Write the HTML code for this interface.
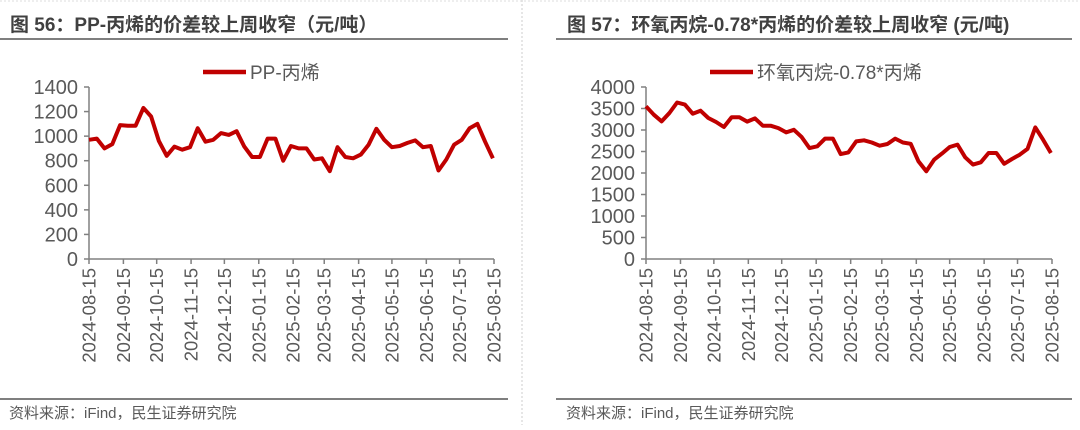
<!DOCTYPE html>
<html><head><meta charset="utf-8">
<style>
body{margin:0;background:#fff;width:1080px;height:425px;overflow:hidden;font-family:"Liberation Sans","Noto Sans CJK SC",sans-serif;}
svg text{font-family:"Liberation Sans","Noto Sans CJK SC",sans-serif;}
</style></head>
<body>
<svg id="s" width="1080" height="425" viewBox="0 0 1080 425">
<line x1="522" y1="0" x2="522" y2="425" stroke="#ccc" stroke-dasharray="2,2"/>
<line x1="0" y1="1" x2="1080" y2="1" stroke="#ddd" stroke-dasharray="2,2"/>
<text x="10" y="31" font-size="19" font-weight="bold" fill="#404040">图 56：PP-丙烯的价差较上周收窄（元/吨）</text>
<line x1="0" y1="39" x2="508" y2="39" stroke="#555" stroke-width="1.5"/>
<line x1="0" y1="399" x2="508" y2="399" stroke="#555" stroke-width="1.5"/>
<text x="9" y="418" font-size="15" fill="#595959">资料来源：iFind，民生证券研究院</text>
<text x="567" y="31" font-size="19" font-weight="bold" fill="#404040">图 57：环氧丙烷-0.78*丙烯的价差较上周收窄 (元/吨)</text>
<line x1="556" y1="39" x2="1072" y2="39" stroke="#555" stroke-width="1.5"/>
<line x1="556" y1="399" x2="1072" y2="399" stroke="#555" stroke-width="1.5"/>
<text x="566" y="418" font-size="15" fill="#595959">资料来源：iFind，民生证券研究院</text>
</svg>
<script>
const tickLabels=["2024-08-15","2024-09-15","2024-10-15","2024-11-15","2024-12-15","2025-01-15","2025-02-15","2025-03-15","2025-04-15","2025-05-15","2025-06-15","2025-07-15","2025-08-15"];
const startDate="2024-08-15";
const ppValues=[970,980,900,935,1090,1085,1085,1230,1160,960,840,915,890,910,1065,955,970,1025,1010,1040,915,830,830,980,980,800,920,900,900,810,820,715,910,830,820,850,930,1060,970,910,920,945,965,910,920,720,810,930,970,1065,1100,955,820];
const poValues=[3550,3355,3200,3395,3640,3590,3380,3450,3280,3185,3070,3295,3295,3195,3270,3100,3100,3045,2945,3005,2835,2580,2620,2800,2800,2440,2480,2735,2760,2710,2635,2675,2800,2710,2680,2270,2040,2310,2450,2605,2660,2365,2195,2250,2465,2465,2215,2325,2425,2560,3060,2775,2465];
const ppTicks=[0,200,400,600,800,1000,1200,1400];
const poTicks=[0,500,1000,1500,2000,2500,3000,3500,4000];
const NS="http://www.w3.org/2000/svg";
const svg=document.getElementById('s');
function mk(tag,attrs,parent){const e=document.createElementNS(NS,tag);for(const k in attrs)e.setAttribute(k,attrs[k]);(parent||svg).appendChild(e);return e;}
const DAY=86400000;
const t0=Date.parse(startDate);
const tEnd=Date.parse(tickLabels[tickLabels.length-1]);
function drawChart(cfg){
  const g=mk('g',{});
  
  
  const x=t=>cfg.x0+(t-t0)/(tEnd-t0)*(cfg.x1-cfg.x0);
  const ymax=cfg.ticks[cfg.ticks.length-1];
  const y=v=>cfg.y0-v/ymax*(cfg.y0-cfg.y1);
  const ya=mk('line',{x1:cfg.x0,y1:cfg.y0,x2:cfg.x0,y2:cfg.y1,stroke:'#808080','stroke-width':1.5},g);
  
  
  cfg.ticks.forEach(v=>{
    mk('line',{x1:cfg.x0-5,y1:y(v),x2:cfg.x0,y2:y(v),stroke:'#808080','stroke-width':1.5},g);
    const t=mk('text',{x:cfg.x0-11,y:y(v)+7,'font-size':20,fill:'#595959','text-anchor':'end'},g);
    t.textContent=v;
    
    
  });
  const xa=mk('line',{x1:cfg.x0,y1:cfg.y0,x2:cfg.x1,y2:cfg.y0,stroke:'#808080','stroke-width':1.5},g);
  
  
  tickLabels.forEach(s=>{
    const xx=x(Date.parse(s));
    mk('line',{x1:xx,y1:cfg.y0,x2:xx,y2:cfg.y0+5,stroke:'#808080','stroke-width':1.5},g);
    const t=mk('text',{x:0,y:0,'font-size':18.5,fill:'#595959','text-anchor':'end',transform:`translate(${xx+6.5},${cfg.y0+9}) rotate(-90)`},g);
    t.textContent=s;
    
    
  });
  const pts=cfg.values.map((v,i)=>x(t0+i*7*DAY).toFixed(1)+','+y(v).toFixed(1)).join(' ');
  const pl=mk('polyline',{points:pts,fill:'none',stroke:'#C00000','stroke-width':4,'stroke-linejoin':'round'},g);
  
  
  const lg=mk('g',{},g);
  
  
  mk('line',{x1:cfg.lx,y1:72,x2:cfg.lx+43,y2:72,stroke:'#C00000','stroke-width':4.5},lg);
  const lt=mk('text',{x:cfg.lx+47,y:79,'font-size':19,fill:'#595959'},lg);
  lt.textContent=cfg.label;
}
drawChart({name:'pp-propylene-chart',x0:89,x1:494,y0:259,y1:87,ticks:ppTicks,values:ppValues,label:'PP-丙烯',lx:203});
drawChart({name:'po-propylene-chart',x0:646,x1:1052,y0:259,y1:87,ticks:poTicks,values:poValues,label:'环氧丙烷-0.78*丙烯',lx:710});
</script>
</body></html>
